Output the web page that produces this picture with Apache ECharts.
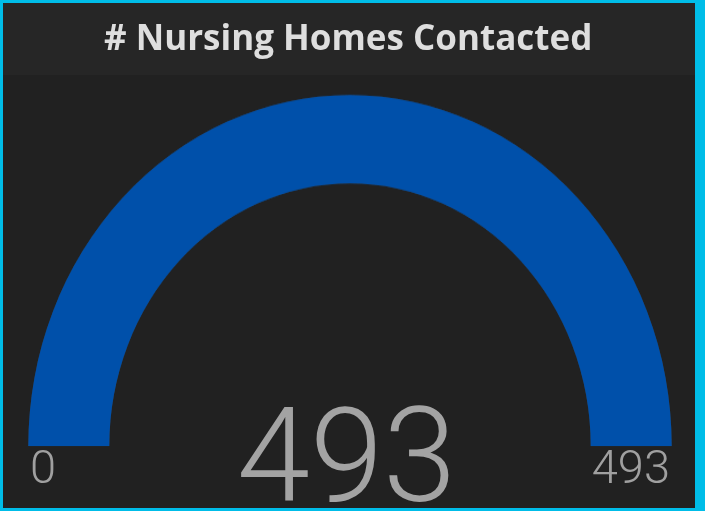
<!DOCTYPE html>
<html>
<head>
<meta charset="utf-8">
<script src="https://cdn.jsdelivr.net/npm/echarts@6/dist/echarts.min.js"></script>
<style>
  html, body { margin: 0; padding: 0; }
  body { width: 705px; height: 511px; background: #00bde8; position: relative; overflow: hidden; }
  #panel { position: absolute; left: 3px; top: 3px; width: 692px; height: 505px; background: #212121; }
  #titleBar { position: absolute; left: 3px; top: 3px; width: 692px; height: 72px; background: #262626; }
  #arcChart, #textChart { position: absolute; left: 0; top: 0; width: 705px; height: 511px; }
  /* the original gauge is a bit taller than wide */
  #arcChart { transform: scaleY(1.091); transform-origin: 350px 446px; }
</style>
</head>
<body>
<div id="panel"></div>
<div id="titleBar"></div>
<div id="arcChart"></div>
<div id="textChart"></div>
<script>
  // data
  var chartTitle = '# Nursing Homes Contacted';
  var gaugeMin = 0;
  var gaugeMax = 493;
  var gaugeValue = [493];

  var arcChart = echarts.init(document.getElementById('arcChart'), null, {renderer: 'canvas'});
  var textChart = echarts.init(document.getElementById('textChart'), null, {renderer: 'canvas'});

  // the blue arc
  arcChart.setOption({
    animation: false,
    series: [{
      type: 'gauge',
      center: [350, 446],
      radius: 321.7,
      startAngle: 180,
      endAngle: 0,
      min: gaugeMin,
      max: gaugeMax,
      splitNumber: 1,
      axisLine: {lineStyle: {width: 81, color: [[1, '#3a3a3a']]}},
      progress: {show: true, width: 81, roundCap: false, itemStyle: {color: '#0050aa'}},
      pointer: {show: false},
      anchor: {show: false},
      axisTick: {show: false},
      splitLine: {show: false},
      axisLabel: {show: false},
      title: {show: false},
      detail: {show: false},
      data: gaugeValue.map(function (v) { return {value: v}; })
    }]
  });

  // title, min / max labels and big value
  textChart.setOption({
    animation: false,
    title: {
      text: chartTitle,
      left: 99,
      top: 18,
      textStyle: {
        color: '#dedede',
        fontFamily: 'Open Sans',
        fontWeight: 'bold',
        fontSize: 35
      }
    },
    series: [{
      type: 'gauge',
      center: [350, 471.5],
      radius: 320,
      startAngle: 180,
      endAngle: 0,
      min: gaugeMin,
      max: gaugeMax,
      splitNumber: 1,
      axisLine: {show: false, lineStyle: {width: 0}},
      progress: {show: false},
      pointer: {show: false},
      anchor: {show: false},
      axisTick: {show: false},
      splitLine: {show: false, length: 0, distance: 0},
      axisLabel: {
        show: true,
        distance: 0,
        color: '#a0a0a0',
        fontFamily: 'Roboto',
        fontWeight: 300,
        fontSize: 47
      },
      title: {show: false},
      detail: {
        show: true,
        offsetCenter: [-3.5, -4],
        color: '#a3a3a3',
        fontFamily: 'Roboto',
        fontWeight: 300,
        fontSize: 132,
        formatter: '{value}'
      },
      data: gaugeValue.map(function (v) { return {value: v}; })
    }]
  });
</script>
</body>
</html>
